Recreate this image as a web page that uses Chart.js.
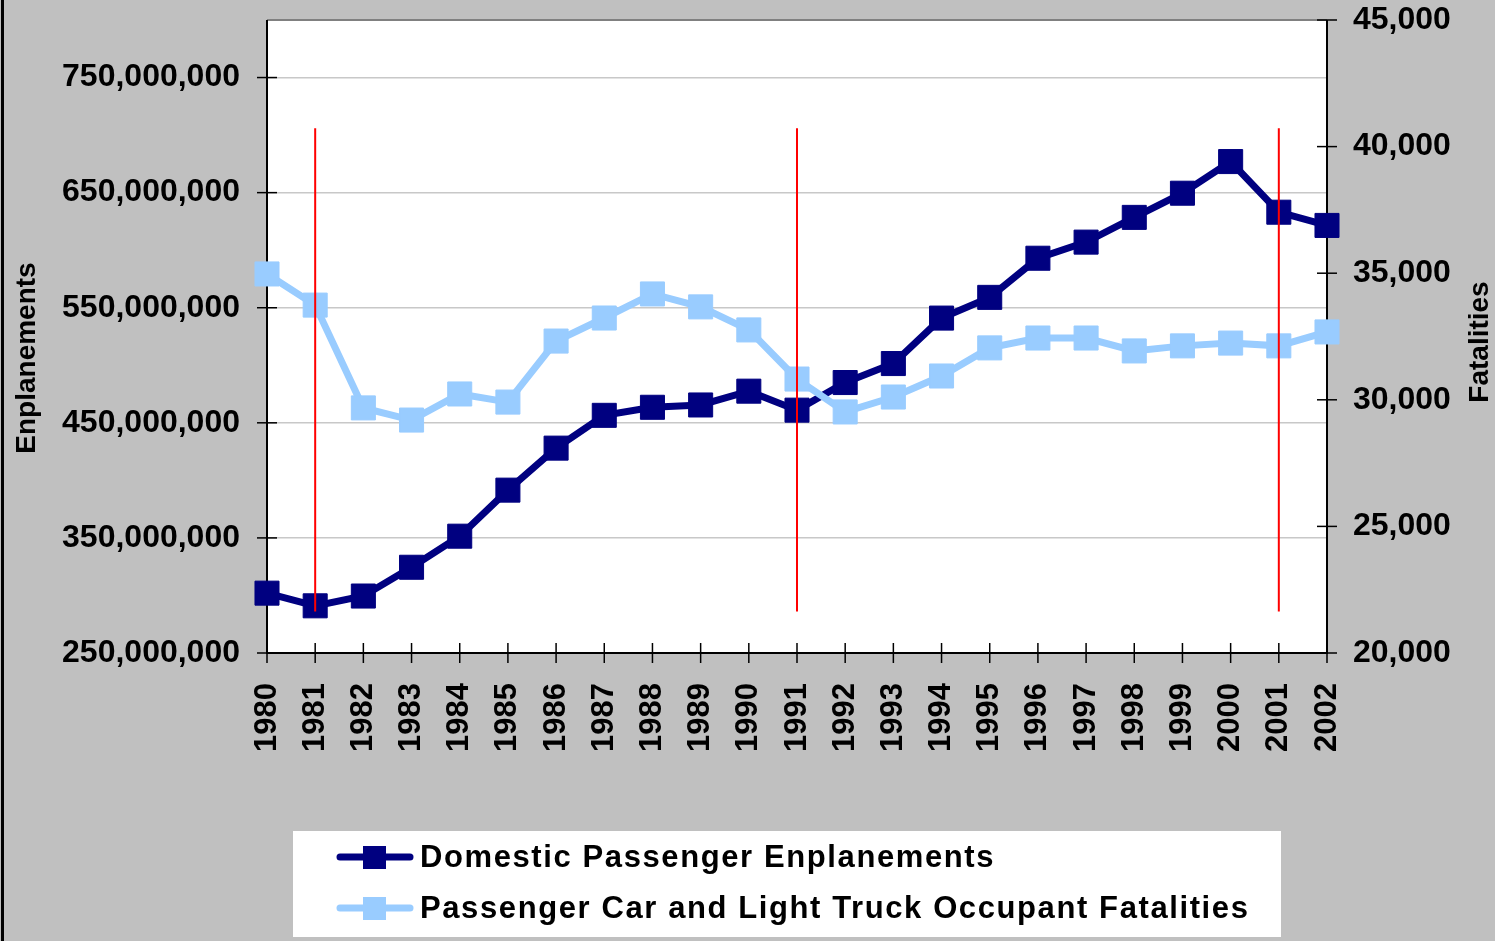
<!DOCTYPE html>
<html>
<head>
<meta charset="utf-8">
<script src="https://cdn.jsdelivr.net/npm/chart.js@4.4.0/dist/chart.umd.min.js"></script>
<style>
  html, body { margin: 0; padding: 0; background: #c0c0c0; }
  #wrap { width: 1495px; height: 941px; position: relative; }
</style>
</head>
<body>
<div id="wrap"><canvas id="chart" width="1495" height="941"></canvas></div>
<script>
// data
const years = ["1980", "1981", "1982", "1983", "1984", "1985", "1986", "1987", "1988", "1989", "1990", "1991",
	"1992", "1993", "1994", "1995", "1996", "1997", "1998", "1999", "2000", "2001", "2002"];
const enplanements = [302e6, 291e6, 299.5e6, 324.5e6, 351.5e6, 391.5e6, 428e6, 456.5e6, 463.5e6, 465.5e6, 477.5e6, 461e6,
	485e6, 501.5e6, 541e6, 559e6, 593e6, 607e6, 628.5e6, 649.5e6, 677e6, 633e6, 621.5e6];
const fatalities = [34970, 33740, 29680, 29200, 30230, 29910, 32320, 33230, 34180, 33670, 32760, 30820,
	29520, 30110, 30940, 32050, 32440, 32440, 31930, 32130, 32240, 32130, 32680];
const markerYears = ["1981", "1991", "2001"];
const markerRange = [286e6, 706e6];
const leftTicks = [250e6, 350e6, 450e6, 550e6, 650e6, 750e6, 800e6];
const rightTicks = [20000, 25000, 30000, 35000, 40000, 45000];

const labelFont = "'Liberation Sans', Arial, sans-serif";
const W = 1495, H = 941;
const leftMin = leftTicks[0], leftMax = leftTicks[leftTicks.length - 1];

const fmt = (v) => Number(v).toLocaleString("en-US");

const chartDecor = {
	id: "chartDecor",
	beforeDraw(chart) {
		const { ctx, chartArea: a } = chart;
		ctx.save();
		ctx.fillStyle = "#c0c0c0";
		ctx.fillRect(0, 0, W, H);
		ctx.fillStyle = "#000";
		ctx.fillRect(1, 0, 3, H);
		ctx.fillStyle = "#ffffff";
		ctx.fillRect(a.left, a.top, a.right - a.left, a.bottom - a.top);
		ctx.restore();
	},
	beforeDatasetsDraw(chart) {
		const { ctx, chartArea: a, scales } = chart;
		ctx.save();
		// plot frame
		ctx.lineWidth = 2;
		ctx.strokeStyle = "#808080";
		ctx.beginPath();
		ctx.moveTo(a.left, a.top);
		ctx.lineTo(a.right, a.top);
		ctx.stroke();
		ctx.strokeStyle = "#000";
		ctx.beginPath();
		ctx.moveTo(a.left, a.top);
		ctx.lineTo(a.left, a.bottom);
		ctx.lineTo(a.right, a.bottom);
		ctx.lineTo(a.right, a.top);
		ctx.stroke();
		// tick marks that cross the axes
		ctx.lineWidth = 1.5;
		scales.x.ticks.forEach((t, i) => {
			const x = scales.x.getPixelForTick(i);
			ctx.beginPath();
			ctx.moveTo(x, a.bottom - 10);
			ctx.lineTo(x, a.bottom + 10);
			ctx.stroke();
		});
		scales.y.ticks.forEach((t, i) => {
			if (t.value >= leftMax) return;
			const y = scales.y.getPixelForTick(i);
			ctx.beginPath();
			ctx.moveTo(a.left - 10, y);
			ctx.lineTo(a.left + 10, y);
			ctx.stroke();
		});
		scales.y1.ticks.forEach((t, i) => {
			const y = scales.y1.getPixelForTick(i);
			ctx.beginPath();
			ctx.moveTo(a.right - 10, y);
			ctx.lineTo(a.right + 10, y);
			ctx.stroke();
		});
		ctx.restore();
	},
	afterDraw(chart) {
		const { ctx } = chart;
		ctx.save();
		// axis titles, both read bottom to top
		ctx.fillStyle = "#000";
		ctx.font = "bold 28px " + labelFont;
		ctx.textAlign = "center";
		ctx.textBaseline = "middle";
		[["Enplanements", 27, 358], ["Fatalities", 1480, 342]].forEach(([txt, x, y]) => {
			ctx.save();
			ctx.translate(x, y);
			ctx.rotate(-Math.PI / 2);
			ctx.fillText(txt, 0, 0);
			ctx.restore();
		});
		// legend box
		ctx.fillStyle = "#ffffff";
		ctx.fillRect(293, 831, 988, 106);
		const rows = [0, 1].map((i) => chart.data.datasets[i]);
		rows.forEach((ds, i) => {
			const cy = 857 + i * 51;
			ctx.strokeStyle = ds.borderColor;
			ctx.lineWidth = 7;
			ctx.lineCap = "round";
			ctx.beginPath();
			ctx.moveTo(340, cy);
			ctx.lineTo(410, cy);
			ctx.stroke();
			ctx.fillStyle = ds.borderColor;
			ctx.fillRect(363, cy - 11, 23, 23);
			ctx.fillStyle = "#000";
			ctx.font = "bold 31px " + labelFont;
			ctx.letterSpacing = "1.6px";
			ctx.textAlign = "left";
			ctx.textBaseline = "middle";
			ctx.fillText(ds.label, 420, cy + 1);
			ctx.letterSpacing = "0px";
		});
		ctx.restore();
	},
};

const lineStyle = {
	type: "line",
	fill: false,
	borderWidth: 7,
	tension: 0,
	pointStyle: "rect",
	pointRadius: 17,
	pointHoverRadius: 17,
	pointBorderWidth: 1,
};

const markerSets = markerYears.map((yr) => ({
	type: "line",
	label: "marker " + yr,
	data: [{ x: yr, y: markerRange[0] }, { x: yr, y: markerRange[1] }],
	borderColor: "#ff0000",
	borderWidth: 2,
	pointRadius: 0,
	yAxisID: "y",
	order: 0,
}));

const noEdgePadding = (s) => {
	s.paddingTop = 0;
	s.paddingBottom = 0;
	s.paddingLeft = 0;
	s.paddingRight = 0;
};

new Chart(document.getElementById("chart"), {
	type: "line",
	data: {
		labels: years,
		datasets: [
			{
				...lineStyle,
				label: "Domestic Passenger Enplanements",
				data: enplanements,
				borderColor: "#000080",
				backgroundColor: "#000080",
				pointBackgroundColor: "#000080",
				pointBorderColor: "#000080",
				yAxisID: "y",
				order: 2,
			},
			{
				...lineStyle,
				label: "Passenger Car and Light Truck Occupant Fatalities",
				data: fatalities,
				borderColor: "#99ccff",
				backgroundColor: "#99ccff",
				pointBackgroundColor: "#99ccff",
				pointBorderColor: "#99ccff",
				yAxisID: "y1",
				order: 1,
			},
			...markerSets,
		],
	},
	options: {
		responsive: false,
		animation: false,
		layout: { padding: { top: 20, left: 0, right: 0, bottom: 0 } },
		plugins: {
			legend: { display: false },
			tooltip: { enabled: false },
		},
		scales: {
			x: {
				type: "category",
				offset: false,
				grid: { display: true, drawOnChartArea: false, drawTicks: false },
				border: { display: false },
				ticks: {
					autoSkip: false,
					minRotation: 90,
					maxRotation: 90,
					padding: 30,
					color: "#000",
					font: { family: labelFont, size: 31, weight: "bold" },
				},
				afterFit: (s) => { s.height = 288; noEdgePadding(s); },
			},
			y: {
				position: "left",
				min: leftMin,
				max: leftMax,
				afterBuildTicks: (s) => { s.ticks = leftTicks.map((v) => ({ value: v })); },
				grid: {
					drawTicks: false,
					lineWidth: 1.5,
					color: (c) => (c.tick && c.tick.value > leftMin && c.tick.value < leftMax ? "#c8c8c8" : "rgba(0,0,0,0)"),
				},
				border: { display: false },
				ticks: {
					padding: 27,
					color: "#000",
					font: { family: labelFont, size: 32, weight: "bold" },
					callback: (v) => (v >= leftMax ? "" : fmt(v)),
				},
				afterFit: (s) => { s.width = 267; noEdgePadding(s); },
			},
			y1: {
				position: "right",
				min: rightTicks[0],
				max: rightTicks[rightTicks.length - 1],
				afterBuildTicks: (s) => { s.ticks = rightTicks.map((v) => ({ value: v })); },
				grid: { drawOnChartArea: false, drawTicks: false },
				border: { display: false },
				ticks: {
					padding: 26,
					color: "#000",
					font: { family: labelFont, size: 32, weight: "bold" },
					callback: (v) => fmt(v),
				},
				afterFit: (s) => { s.width = W - 1327; noEdgePadding(s); },
			},
		},
	},
	plugins: [chartDecor],
});
</script>
</body>
</html>
